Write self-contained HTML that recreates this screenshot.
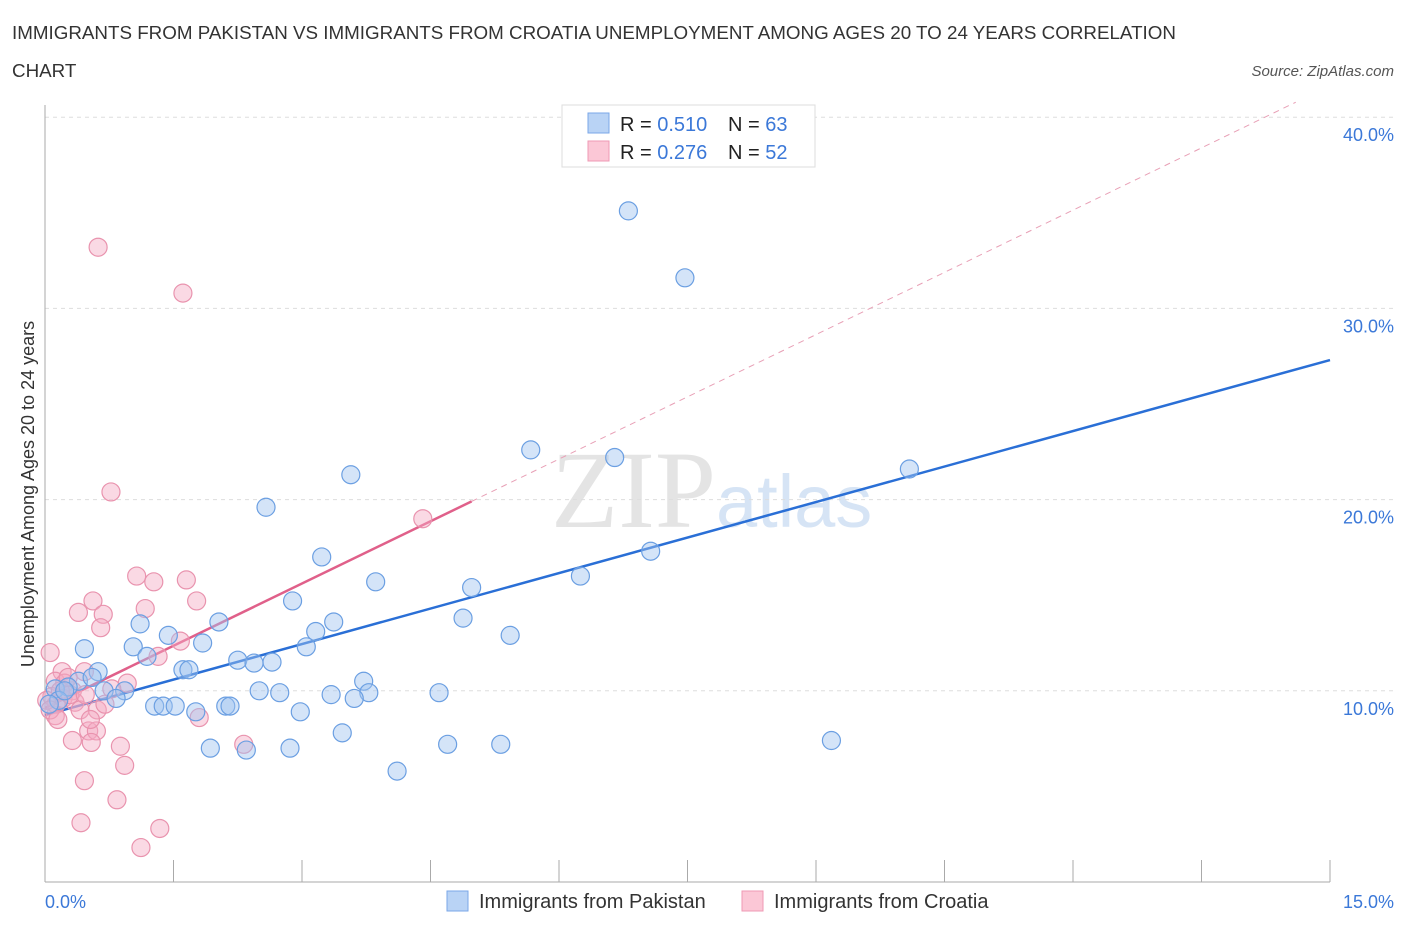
<!DOCTYPE html>
<html><head><meta charset="utf-8"><style>
body{margin:0;background:#fff;font-family:"Liberation Sans",sans-serif;}
</style></head><body>
<svg id="chart" width="1406" height="930" xmlns="http://www.w3.org/2000/svg">
<text x="12" y="39" font-size="18.8" fill="#333">IMMIGRANTS FROM PAKISTAN VS IMMIGRANTS FROM CROATIA UNEMPLOYMENT AMONG AGES 20 TO 24 YEARS CORRELATION</text>
<text x="12" y="77" font-size="18.8" fill="#333">CHART</text>
<text x="1394" y="76" font-size="15" fill="#555" font-style="italic" text-anchor="end">Source: ZipAtlas.com</text>
<text x="716" y="527" font-size="110" fill="#e4e4e4" text-anchor="end" font-family="Liberation Serif, serif">ZIP</text>
<text x="716" y="527" font-size="74" fill="#d6e4f5">atlas</text>
<g id="grid"></g>
<g id="axes"></g>
<g id="trends"></g>
<g id="points"></g>
<text transform="translate(34,494) rotate(-90)" font-size="18" fill="#333" text-anchor="middle">Unemployment Among Ages 20 to 24 years</text>
<text x="45" y="908" font-size="18" fill="#3b78d8">0.0%</text>
<text x="1394" y="908" font-size="18" fill="#3b78d8" text-anchor="end">15.0%</text>
<g>
<rect x="562" y="105" width="253" height="62" fill="#fff" stroke="#ddd"/>
<rect x="588" y="113" width="21" height="20" fill="#b9d3f5" stroke="#7aa7e8"/>
<rect x="588" y="141" width="21" height="20" fill="#fbc7d6" stroke="#ef9ab4"/>
<text x="620" y="131" font-size="20" fill="#222">R = <tspan fill="#3b78d8">0.510</tspan></text>
<text x="728" y="131" font-size="20" fill="#222">N = <tspan fill="#3b78d8">63</tspan></text>
<text x="620" y="159" font-size="20" fill="#222">R = <tspan fill="#3b78d8">0.276</tspan></text>
<text x="728" y="159" font-size="20" fill="#222">N = <tspan fill="#3b78d8">52</tspan></text>
</g>
<g>
<rect x="447" y="891" width="21" height="20" fill="#b9d3f5" stroke="#7aa7e8"/>
<text x="479" y="908" font-size="20" fill="#333">Immigrants from Pakistan</text>
<rect x="742" y="891" width="21" height="20" fill="#fbc7d6" stroke="#ef9ab4"/>
<text x="774" y="908" font-size="20" fill="#333">Immigrants from Croatia</text>
</g>
</svg>
<script>
const blueX=[6.81,7.47,5.67,6.65,10.09,3.57,2.58,7.07,6.25,3.23,3.86,4.98,2.89,3.37,4.88,2.03,1.11,5.43,1.44,3.16,0.46,1.84,3.05,1.03,1.19,2.25,2.44,2.65,1.61,1.68,0.62,0.39,0.55,3.72,0.12,0.27,0.69,0.93,2.50,2.74,3.34,3.78,4.60,3.61,0.83,0.16,1.28,1.38,1.52,2.11,2.16,1.76,2.98,0.05,3.47,9.18,1.93,2.35,2.86,4.70,5.32,4.11,0.23];
const blueY=[35.1,31.6,22.6,22.2,21.6,21.3,19.6,17.3,16.0,17.0,15.7,15.4,14.7,13.6,13.8,13.6,13.5,12.9,12.9,13.1,12.2,12.5,12.3,12.3,11.8,11.6,11.45,11.5,11.1,11.1,11.0,10.5,10.7,10.5,10.1,10.2,10.0,10.0,10.0,9.9,9.8,9.9,9.9,9.6,9.6,9.5,9.2,9.2,9.2,9.2,9.2,8.9,8.9,9.3,7.8,7.4,7.0,6.9,7.0,7.2,7.2,5.8,10.0];
const pinkX=[0.62,1.61,0.77,4.41,1.07,1.27,1.65,0.56,1.77,0.39,0.68,1.17,0.65,0.06,1.32,1.58,0.20,0.46,0.12,0.23,0.96,0.32,0.78,0.08,0.21,0.35,0.41,0.61,0.12,1.80,0.51,0.60,0.32,0.54,0.88,0.93,0.46,0.84,0.42,1.34,1.12,2.32,0.13,0.02,0.18,0.29,0.06,0.47,0.70,0.27,0.15,0.53];
const pinkY=[33.2,30.8,20.4,19.0,16.0,15.7,15.8,14.7,14.7,14.1,14.0,14.3,13.3,12.0,11.8,12.6,11.0,11.0,10.5,10.4,10.4,10.0,10.1,9.7,9.6,9.4,9.0,9.0,8.7,8.6,7.9,7.9,7.4,7.3,7.1,6.1,5.3,4.3,3.1,2.8,1.8,7.2,9.3,9.5,10.0,9.8,9.0,9.8,9.3,10.7,8.5,8.5];
const blueTrend=[8.73,27.3]; // y at x=0, y at x=15
const pinkTrend=[9.1,2.17]; // intercept, slope
const yTicks=[10,20,30,40];
const xTicks=[0,1.5,3,4.5,6,7.5,9,10.5,12,13.5,15];
const NS='http://www.w3.org/2000/svg';
const sx=v=>45+v/15*1285;
const sy=v=>882-v*19.12;
function mk(tag,attrs,parent){const e=document.createElementNS(NS,tag);for(const k in attrs)e.setAttribute(k,attrs[k]);document.getElementById(parent).appendChild(e);return e;}
yTicks.forEach(t=>{
  const l=mk('line',{x1:45,x2:1395,y1:sy(t),y2:sy(t),stroke:'#ddd','stroke-dasharray':'4,4'},'grid');
  
  
  const tx=mk('text',{x:1394,y:sy(t)+24,'font-size':18,fill:'#3b78d8','text-anchor':'end'},'grid');
  tx.textContent=t.toFixed(1)+'%';
  
  
});
const ya=mk('line',{x1:45,x2:45,y1:105,y2:882,stroke:'#aaa'},'axes');


const xa=mk('line',{x1:45,x2:1330,y1:882,y2:882,stroke:'#aaa'},'axes');


xTicks.forEach(t=>{
  const l=mk('line',{x1:sx(t),x2:sx(t),y1:860,y2:882,stroke:'#aaa'},'axes');
  
  
});
const bt=mk('line',{x1:sx(0),y1:sy(blueTrend[0]),x2:sx(15),y2:sy(blueTrend[1]),stroke:'#2a6fd6','stroke-width':2.5},'trends');


const pe=4.98, pd=14.6;
const pt=mk('line',{x1:sx(0),y1:sy(pinkTrend[0]),x2:sx(pe),y2:sy(pinkTrend[0]+pinkTrend[1]*pe),stroke:'#e0608a','stroke-width':2.5},'trends');


const pdl=mk('line',{x1:sx(pe),y1:sy(pinkTrend[0]+pinkTrend[1]*pe),x2:sx(pd),y2:sy(pinkTrend[0]+pinkTrend[1]*pd),stroke:'#e8a0b6','stroke-width':1,'stroke-dasharray':'6,5'},'trends');


pinkX.forEach((x,i)=>{
  const c=mk('circle',{cx:sx(x),cy:sy(pinkY[i]),r:9,fill:'rgba(245,170,195,0.45)',stroke:'#e993ae','stroke-width':1.2},'points');
  
  
});
blueX.forEach((x,i)=>{
  const c=mk('circle',{cx:sx(x),cy:sy(blueY[i]),r:9,fill:'rgba(160,195,240,0.45)',stroke:'#6b9fe2','stroke-width':1.2},'points');
  
  
});
</script>
</body></html>
